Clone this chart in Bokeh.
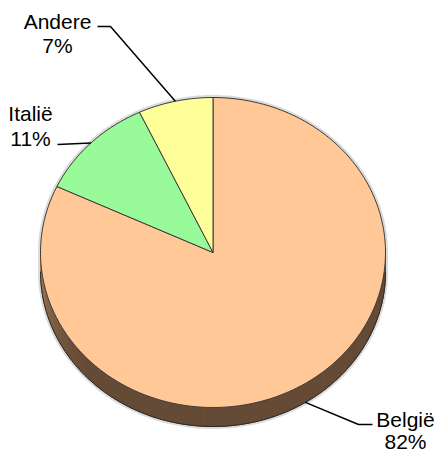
import numpy as np
from bokeh.plotting import figure
from bokeh.models import Range1d
from bokeh.core.properties import value
from bokeh.embed import file_html
from bokeh.resources import INLINE

# ---- data ----
categories = ["België", "Italië", "Andere"]
shares = [82, 11, 7]
slice_colors = ["#FFC896", "#99FA99", "#FFFF99"]

# ---- layout (canvas pixels, y down) ----
W, H = 435, 450
cx, cy = 212.5, 252.0
rx, ry = 172.5, 155.0
thick = 19.0
text_shift = -7  # compensates the renderer's baseline placement

p = figure(width=W, height=H, output_backend="svg", toolbar_location=None,
           x_range=Range1d(0, W), y_range=Range1d(H, 0), min_border=0)
p.axis.visible = False
p.grid.visible = False
p.outline_line_color = None
p.background_fill_color = "white"


def pt(a_deg, dy=0.0):
    a = np.radians(a_deg)
    return cx + rx * np.sin(a), cy - ry * np.cos(a) + dy


# soft shadow of the extruded disc
lo = np.linspace(90, 270, 181)
hi = np.linspace(270, 450, 181)
sx = np.concatenate([pt(lo, thick)[0], pt(hi)[0]])
sy = np.concatenate([pt(lo, thick)[1], pt(hi)[1]])
p.patch(sx, sy, fill_alpha=0.0, line_color="#999999", line_alpha=0.35, line_width=5)

# side strips with shading
def side_color(a):
    light = np.array([168, 129, 92])
    dark = np.array([101, 74, 53])
    f = np.clip((a - 225) / 45.0, 0, 1) ** 1.5
    c = dark + (light - dark) * f
    return "#%02x%02x%02x" % tuple(int(v) for v in c)

edges = np.linspace(90, 270, 91)
xs, ys, cs = [], [], []
for a0, a1 in zip(edges[:-1], edges[1:]):
    seg = np.linspace(a0, a1, 4)
    ux, uy = pt(seg)
    bx, by = pt(seg[::-1], thick)
    xs.append(np.concatenate([ux, bx]))
    ys.append(np.concatenate([uy, by]))
    cs.append(side_color((a0 + a1) / 2))
p.patches(xs, ys, fill_color=cs, line_color=cs, line_width=1)

# bottom outline of side
bx, by = pt(lo, thick)
p.line(bx, by, line_color="#2a2a2a", line_width=1)

# top face slices (clockwise from 12 o'clock)
cum = np.concatenate([[0], np.cumsum(shares)]) / 100.0 * 360.0
fxs, fys = [], []
for a0, a1 in zip(cum[:-1], cum[1:]):
    arc = np.linspace(a0, a1, max(int(a1 - a0), 2) + 1)
    ax, ay = pt(arc)
    fxs.append(np.concatenate([[cx], ax]))
    fys.append(np.concatenate([[cy], ay]))
p.patches(fxs, fys, fill_color=slice_colors, line_color="#3a3a3a", line_width=1)

# leader lines and labels
mids = (cum[:-1] + cum[1:]) / 2
lab_pos = {  # label centre x, baselines of both lines, leader elbow / end points
    "België": (405, 426, 448, [(358, 424), (372, 424)]),
    "Italië": (30, 120, 145, [(57, 144)]),
    "Andere": (57, 28, 52, [(110, 26), (97, 26)]),
}
for name, share, mid in zip(categories, shares, mids):
    ax_, ay_ = pt(mid)
    if 90 < mid < 270:
        ay_ = ay_ + thick
    tx, tb1, tb2, pts = lab_pos[name]
    px = [float(ax_)] + [q[0] for q in pts]
    py = [float(ay_)] + [q[1] for q in pts]
    p.line(px, py, line_color="black", line_width=1.5)
    p.text([tx, tx], [tb1 + text_shift, tb2 + text_shift], text=[name, f"{share}%"],
           text_font=value("Liberation Sans"), text_font_size="21px",
           text_align="center", text_baseline="alphabetic", text_color="black")

open("out.html", "w").write(file_html(p, INLINE))
